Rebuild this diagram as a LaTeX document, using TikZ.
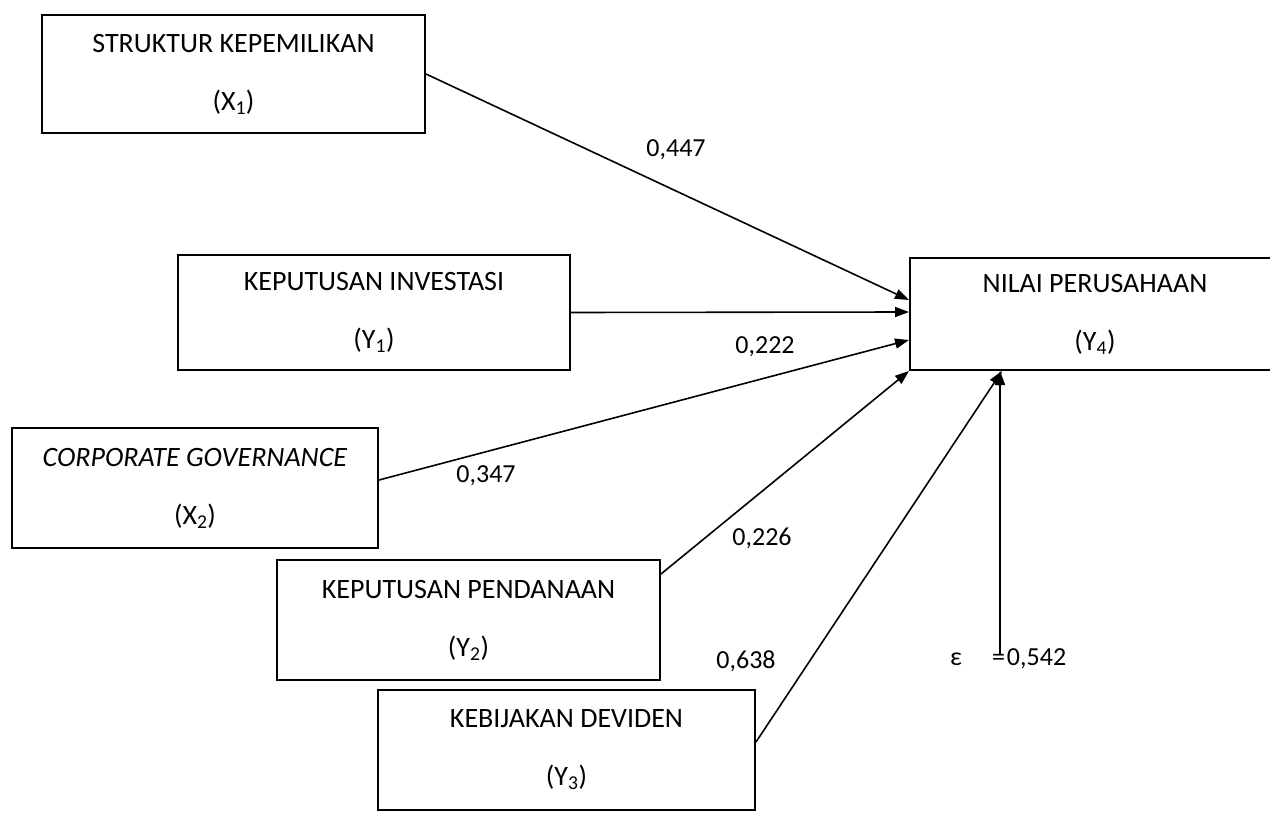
\documentclass[tikz,border=0pt]{standalone}
\usepackage{fontspec}
\setmainfont{Carlito}
\usetikzlibrary{arrows.meta,calc}

\begin{document}
\begin{tikzpicture}[x=1pt,y={(0pt,-1pt)},
  varbox/.style={draw,line width=2pt,rectangle,inner sep=0pt,align=center,
    font=\fontsize{28}{58}\selectfont},
  path/.style={line width=1.6pt,-{Triangle[length=14pt,width=10pt]}},
  coef/.style={font=\fontsize{26}{30}\selectfont,inner sep=0pt}]
  \useasboundingbox (0,0) rectangle (1270,813);

  % exogenous and intervening variables
  \node[varbox,minimum width=383pt,minimum height=118pt] (x1) at (233.5,74)
    {STRUKTUR KEPEMILIKAN\\(X\textsubscript{1})};
  \node[varbox,minimum width=392pt,minimum height=115pt] (y1) at (374,312.5)
    {KEPUTUSAN INVESTASI\\(Y\textsubscript{1})};
  \node[varbox,minimum width=366pt,minimum height=120pt] (x2) at (195,488)
    {\textit{CORPORATE GOVERNANCE}\\(X\textsubscript{2})};
  \node[varbox,minimum width=383pt,minimum height=120pt] (y2) at (468.5,620)
    {KEPUTUSAN PENDANAAN\\(Y\textsubscript{2})};
  \node[varbox,minimum width=377pt,minimum height=120pt] (y3) at (566.5,750)
    {KEBIJAKAN DEVIDEN\\(Y\textsubscript{3})};

  % dependent variable
  \node[varbox,minimum width=370pt,minimum height=112pt] (y4) at (1095,314)
    {NILAI PERUSAHAAN\\(Y\textsubscript{4})};

  % residual
  \coordinate (e) at (1000,655);

  % path arrows
  \draw[path] (x1.east) -- ([yshift=14pt]y4.west);
  \draw[path] (y1.east) -- ([yshift=2pt]y4.west);
  \draw[path] ([yshift=8pt]x2.east) -- ([yshift=-26pt]y4.west);
  \draw[path] ([yshift=-15pt]y2.north east) -- (y4.south west);
  \draw[path] ([yshift=8pt]y3.east) -- ([xshift=93pt]y4.south west);
  \draw[path] (e) -- (e |- y4.south);

  % path coefficients
  \node[coef] (c1) at (676,150) {0,447};
  \node[coef] (c2) at (765,347) {0,222};
  \node[coef] (c3) at (486,476) {0,347};
  \node[coef] (c4) at (762,538) {0,226};
  \node[coef] (c5) at (746,661) {0,638};
  \node[coef,anchor=west] (eps) at (950,659) {ε\hspace{30pt}=\hspace{2pt}0,542};
\end{tikzpicture}
\end{document}
